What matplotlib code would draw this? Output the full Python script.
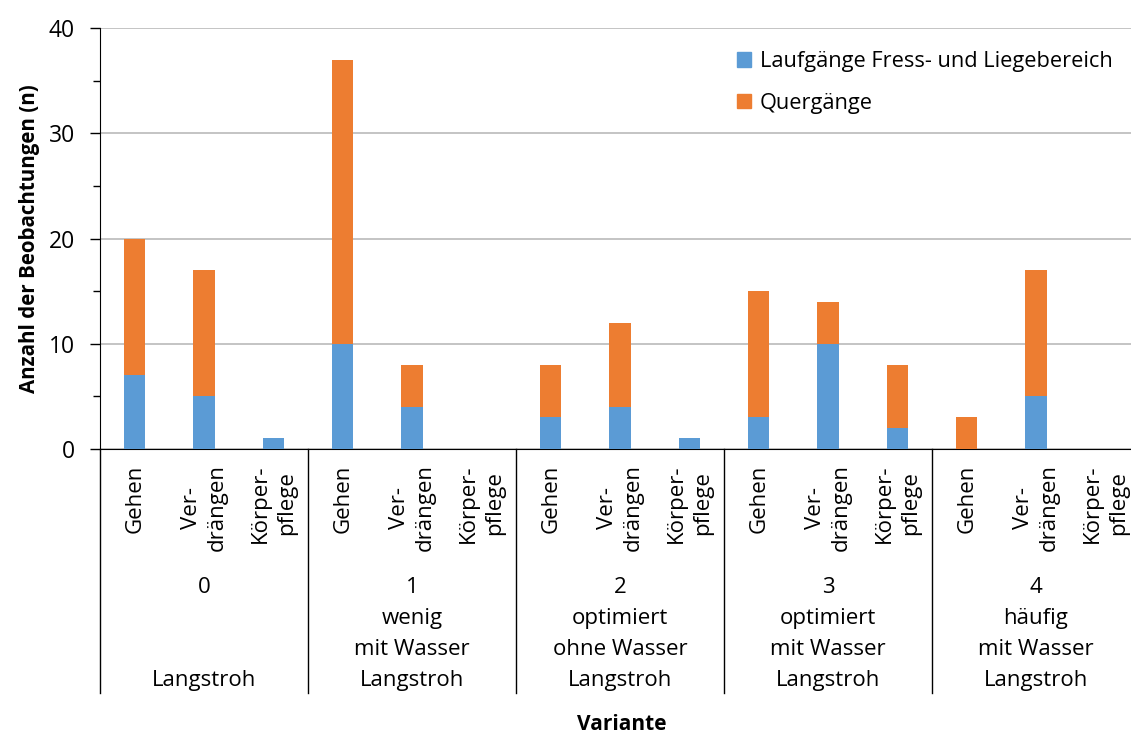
import numpy as np
import matplotlib
matplotlib.use('Agg')
import matplotlib.pyplot as plt
from matplotlib.patches import Patch
from matplotlib.transforms import blended_transform_factory

plt.rcParams['font.family'] = ['Open Sans', 'DejaVu Sans']

# data
categories = ['Gehen', 'Ver-\ndrängen', 'Körper-\npflege'] * 5
laufgaenge = [7, 5, 1, 10, 4, 0, 3, 4, 1, 3, 10, 2, 0, 5, 0]
quergaenge = [13, 12, 0, 27, 4, 0, 5, 8, 0, 12, 4, 6, 3, 12, 0]
groups = [['0', '', '', 'Langstroh'],
          ['1', 'wenig', 'mit Wasser', 'Langstroh'],
          ['2', 'optimiert', 'ohne Wasser', 'Langstroh'],
          ['3', 'optimiert', 'mit Wasser', 'Langstroh'],
          ['4', 'häufig', 'mit Wasser', 'Langstroh']]
series_names = ['Laufgänge Fress- und Liegebereich', 'Quergänge']
yticks = [0, 10, 20, 30, 40]

blue = '#5B9BD5'
orange = '#ED7D31'

W, H = 1131, 735
fig = plt.figure(figsize=(W / 100, H / 100), dpi=100)
ax = fig.add_axes([100 / W, 1 - 449 / H, 1040 / W, 421 / H])

x = np.arange(len(categories))
ax.bar(x, laufgaenge, width=0.31, color=blue, zorder=3)
ax.bar(x, quergaenge, width=0.31, bottom=laufgaenge, color=orange, zorder=3)

ax.set_xlim(-0.5, len(categories) - 0.5)
ax.set_ylim(0, 40)
ax.set_yticks(yticks)
ax.set_yticks([5, 15, 25, 35], minor=True)
ax.tick_params(axis='y', which='major', length=7, width=1, labelsize=16.5, pad=11)
ax.tick_params(axis='y', which='minor', length=5, width=1)
ax.yaxis.grid(True, color='#BFBFBF', linewidth=1.3, zorder=0)
ax.set_axisbelow(True)

ax.set_xticks(x)
ax.set_xticklabels(categories, rotation=90, fontsize=16, va='top', ha='center',
                   linespacing=1.3)
ax.tick_params(axis='x', length=0, pad=11)

for s in ['top', 'right']:
    ax.spines[s].set_visible(False)
ax.spines['left'].set_color('black')
ax.spines['bottom'].set_color('black')

# group separators and group labels below the axis
trans = blended_transform_factory(ax.transData, ax.transAxes)
ppx = 1 / 421.0
ybot = -(693 - 449) * ppx
for b in np.arange(-0.5, len(categories), 3):
    ax.plot([b, b], [0, ybot], color='black', linewidth=1, transform=trans, clip_on=False)

base_lines = [593, 624, 655, 686]
for gi, lines in enumerate(groups):
    xc = gi * 3 + 1
    for li, txt in enumerate(lines):
        if txt:
            ax.text(xc, -(base_lines[li] - 449) * ppx, txt, transform=trans,
                    ha='center', va='baseline', fontsize=16)

ax.set_ylabel('Anzahl der Beobachtungen (n)', fontsize=14.8, fontweight='bold', labelpad=6)
fig.text(622 / W, 1 - 725 / H, 'Variante', ha='center', va='center',
         fontsize=15, fontweight='bold')

handles = [Patch(color=blue), Patch(color=orange)]
fig.legend(handles, series_names, loc='upper left', bbox_to_anchor=(737 / W, 1 - 51 / H),
           frameon=False, fontsize=15.7, handlelength=0.65, handleheight=0.65,
           handletextpad=0.4, labelspacing=0.95, borderpad=0, borderaxespad=0)

fig.savefig('out.png', dpi=100)
